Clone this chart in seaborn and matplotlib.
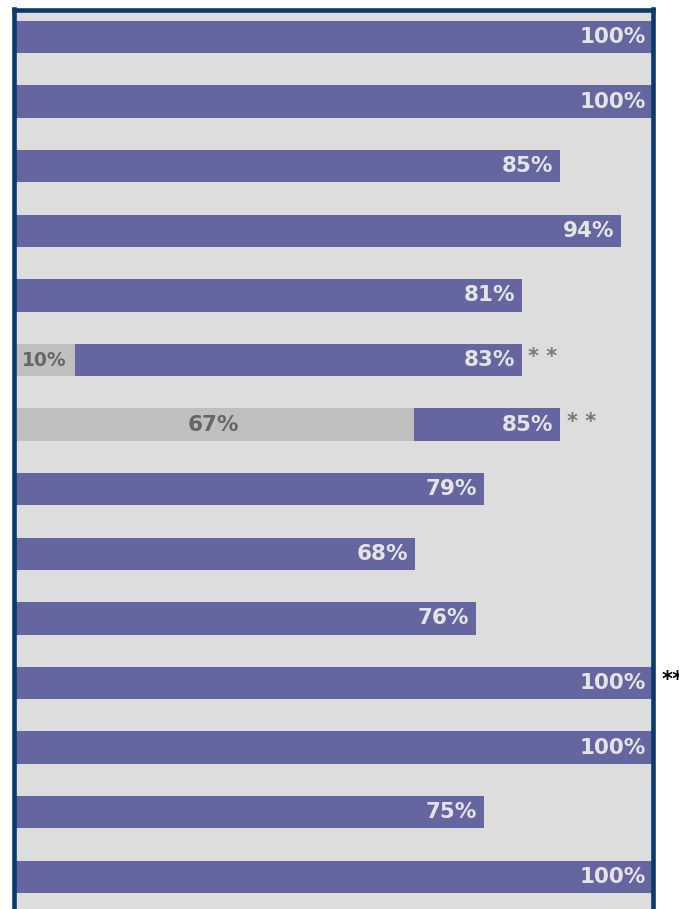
import pandas as pd
import matplotlib.pyplot as plt
import seaborn as sns

# rows top to bottom
rows = [f"row{i}" for i in range(1, 15)]
# bar lengths as drawn (percent of the axis)
bar_values = [100, 100, 85.5, 95, 79.5, 79.5, 85.5, 73.6, 62.8, 72.3, 100, 100, 73.6, 100]
bar_labels = ["100%", "100%", "85%", "94%", "81%", "83%", "85%", "79%", "68%",
              "76%", "100%", "100%", "75%", "100%"]

# grey overlay segments
grey_rows = ["row6", "row7"]
grey_values = [9.6, 62.6]
grey_labels = ["10%", "67%"]

# rows flagged with asterisks
star_rows = ["row6", "row7", "row11"]
star_texts = ["* *", "* *", "**"]
star_colors = ["#777777", "#777777", "#000000"]

PURPLE = "#65659f"
GREY = "#bfbfbf"
BG = "#dddddd"
BORDER = "#0b3a6b"

main_df = pd.DataFrame({"row": rows, "value": bar_values, "label": bar_labels})
grey_df = pd.DataFrame({"row": grey_rows, "value": grey_values, "label": grey_labels})

sns.set_style("white")
plt.rcParams["font.family"] = ["DejaVu Sans"]

fig = plt.figure(figsize=(6.79, 9.09), dpi=100)
ax = fig.add_axes([13.5 / 679, -19.5 / 909, 639.5 / 679, 919 / 909])
ax.set_facecolor(BG)

sns.barplot(data=main_df, x="value", y="row", order=rows, orient="h",
            color=PURPLE, width=0.5, saturation=1, linewidth=0, ax=ax)
sns.barplot(data=grey_df, x="value", y="row", order=rows, orient="h",
            color=GREY, width=0.5, saturation=1, linewidth=0, ax=ax)

ax.set_xlim(0, 100)
ax.set_ylim(13.8, -0.426)
ax.set_xlabel("")
ax.set_ylabel("")
ax.set_xticks([])
ax.set_yticks([])

# value labels at the bar ends
for i, r in main_df.iterrows():
    ax.annotate(r["label"], xy=(r["value"], i), xytext=(-5, 0),
                textcoords="offset points", ha="right", va="center",
                fontsize=15.5, fontweight="bold", color="#e4e4e4")

# grey segment labels centred in the segment
for _, r in grey_df.iterrows():
    i = rows.index(r["row"])
    ax.text(r["value"] / 2, i, r["label"], ha="center", va="center",
            fontsize=15.5 if r["value"] > 30 else 13.5, fontweight="bold",
            color="#666666")

for name, txt, col in zip(star_rows, star_texts, star_colors):
    i = rows.index(name)
    off = 6.5 if bar_values[i] >= 100 else 4.5
    ax.annotate(txt, xy=(bar_values[i], i), xytext=(off, 2),
                textcoords="offset points", ha="left", va="center",
                fontsize=15, fontweight="bold", color=col,
                annotation_clip=False)

for side in ["left", "top", "right"]:
    ax.spines[side].set_visible(True)
    ax.spines[side].set_color(BORDER)
    ax.spines[side].set_linewidth(3.3)
ax.spines["bottom"].set_visible(False)

fig.savefig("out.png", dpi=100)
